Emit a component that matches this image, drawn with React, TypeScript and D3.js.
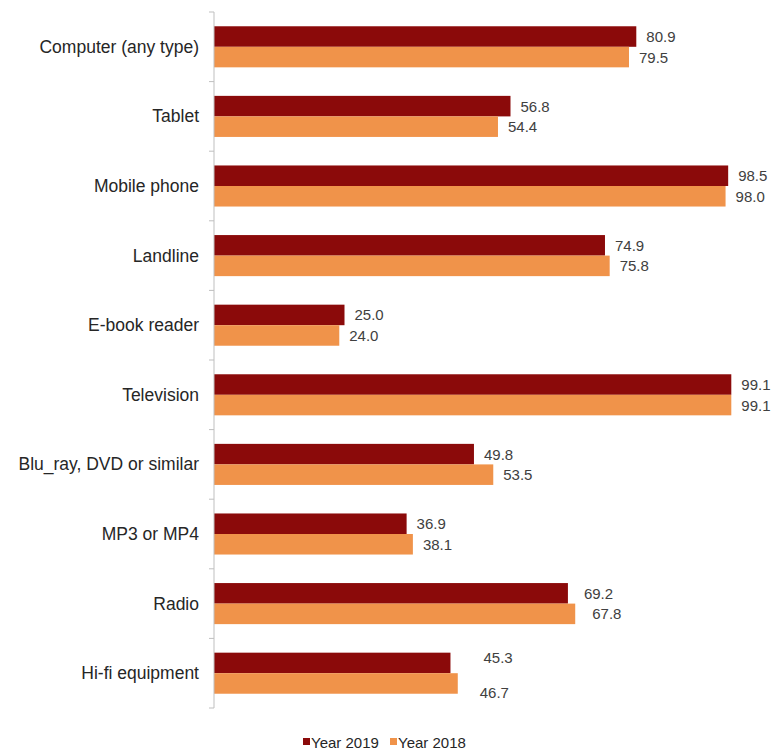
import React from "react";
import * as d3 from "d3";

const categories = [
  "Computer (any type)",
  "Tablet",
  "Mobile phone",
  "Landline",
  "E-book reader",
  "Television",
  "Blu_ray, DVD or similar",
  "MP3 or MP4",
  "Radio",
  "Hi-fi equipment",
];
// bar lengths as drawn in the reference
const year2019 = [80.9, 56.8, 98.5, 74.9, 25.0, 99.1, 49.8, 36.9, 67.8, 45.3];
const year2018 = [79.5, 54.4, 98.0, 75.8, 24.0, 99.1, 53.5, 38.1, 69.2, 46.7];
// data labels as printed in the reference
const labels2019 = ["80.9", "56.8", "98.5", "74.9", "25.0", "99.1", "49.8", "36.9", "69.2", "45.3"];
const labels2018 = ["79.5", "54.4", "98.0", "75.8", "24.0", "99.1", "53.5", "38.1", "67.8", "46.7"];
const seriesNames = ["Year 2019", "Year 2018"];

const W = 773;
const H = 753;
const COLORS = ["#8B0A0A", "#F0934A"];
const FONT = "'Liberation Sans', Arial, sans-serif";

// manual label nudges (as in the reference, some labels are displaced)
const nudges: Record<string, [number, number][]> = {
  Radio: [
    [6, 0],
    [7, 0],
  ],
  "Hi-fi equipment": [
    [23, -5],
    [12, 9],
  ],
};

export default function App() {
  const x = d3.scaleLinear().domain([0, 100]).range([214, 736]);
  const y = d3
    .scaleBand<string>()
    .domain(categories)
    .range([12, 708])
    .paddingInner(0.41)
    .paddingOuter(0.205);
  const inner = d3
    .scaleBand<string>()
    .domain(seriesNames)
    .range([0, y.bandwidth()]);
  const step = y.step();
  const [r0, r1] = y.range();
  const tickYs = d3.range(categories.length + 1).map((i) =>
    i === categories.length ? r1 : r0 + i * step
  );
  const series = [year2019, year2018];
  const seriesLabels = [labels2019, labels2018];

  return (
    <svg
      width={W}
      height={H}
      style={{ position: "absolute", left: 0, top: 0, background: "#fff" }}
      fontFamily={FONT}
    >
      {categories.map((c, i) => {
        const cy = (y(c) as number) + y.bandwidth() / 2;
        return (
          <g key={c}>
            <text
              x={199}
              y={cy}
              textAnchor="end"
              dominantBaseline="central"
              fontSize={17.5}
              fill="#262626"
            >
              {c}
            </text>
            {series.map((vals, s) => {
              const by = (y(c) as number) + (inner(seriesNames[s]) as number);
              const bh = inner.bandwidth();
              const v = vals[i];
              const n = nudges[c] ? nudges[c][s] : [0, 0];
              return (
                <g key={s}>
                  <rect
                    x={x(0)}
                    y={by}
                    width={x(v) - x(0)}
                    height={bh}
                    fill={COLORS[s]}
                  />
                  <text
                    x={x(v) + 10 + n[0]}
                    y={by + bh / 2 + n[1]}
                    dominantBaseline="central"
                    fontSize={15}
                    fill="#404040"
                  >
                    {seriesLabels[s][i]}
                  </text>
                </g>
              );
            })}
          </g>
        );
      })}
      <line x1={x(0)} x2={x(0)} y1={r0} y2={r1} stroke="#BFBFBF" strokeWidth={1} />
      {tickYs.map((ty, i) => (
        <line key={i} x1={x(0) - 5} x2={x(0)} y1={ty} y2={ty} stroke="#BFBFBF" strokeWidth={1} />
      ))}
      {seriesNames.map((s, i) => {
        const lx = [303, 390][i];
        return (
          <g key={s}>
            <rect x={lx} y={738} width={7} height={7} fill={COLORS[i]} />
            <text x={lx + 8} y={742} dominantBaseline="central" fontSize={15} fill="#262626">
              {s}
            </text>
          </g>
        );
      })}
    </svg>
  );
}
